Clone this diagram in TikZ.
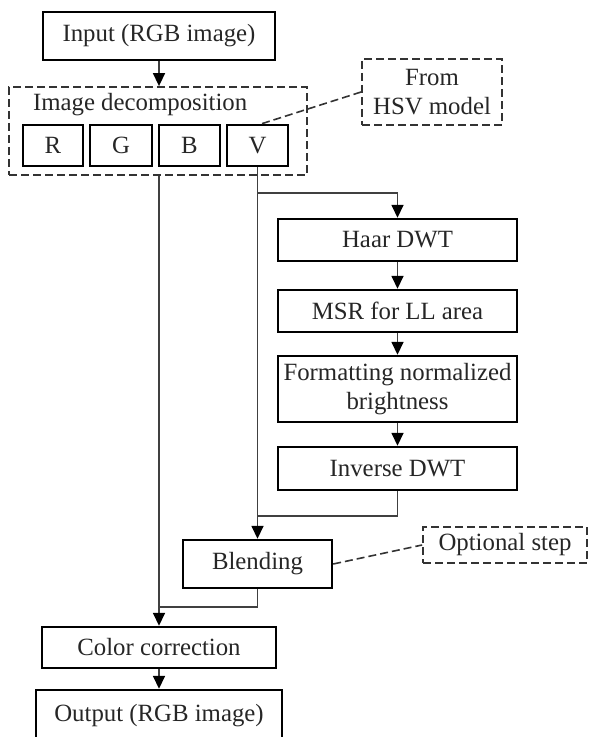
\documentclass[tikz,border=0pt]{standalone}
\usepackage{fontspec}
\setmainfont{Liberation Serif}
\usetikzlibrary{arrows.meta,calc}
\begin{document}
\begin{tikzpicture}[x=0.5pt,y=-0.5pt,
  font=\fontsize{12.4}{14.5}\selectfont,
  sz/.style 2 args={minimum width=#1*0.5pt, minimum height=#2*0.5pt, inner sep=0pt},
  blk/.style={draw=black, line width=1.2pt, text=black!85, align=center},
  dbox/.style={draw=black!80, line width=0.9pt, dash pattern=on 4pt off 2pt, text=black!85, align=center},
  conn/.style={draw=black!75, line width=0.8pt},
  arr/.style={conn, -{Triangle[length=6.5pt,width=6pt,color=black,fill=black]}},
  dline/.style={draw=black!80, line width=0.8pt, dash pattern=on 4pt off 2pt}]
\useasboundingbox (0,0) rectangle (589,737);

% boxes
\node[blk, sz={232}{48}] (in) at (159,36) {Input (RGB image)};
\node[dbox, sz={298}{88}] (dec) at (158,131) {};
\node[anchor=west, text=black!85] (dect) at (26,105) {Image decomposition};
\node[blk, sz={60}{41}] (R) at (53,145.5) {R};
\node[blk, sz={62}{41}] (G) at (121,145.5) {G};
\node[blk, sz={61}{41}] (B) at (189.5,145.5) {B};
\node[blk, sz={61}{41}] (V) at (257.5,145.5) {V};
\node[dbox, sz={140}{66}] (hsv) at (432,92) {From\\HSV model};

\node[blk, sz={239}{42}] (haar) at (397.5,240) {Haar DWT};
\node[blk, sz={239}{42}] (msr) at (397.5,311) {MSR for LL area};
\node[blk, sz={239}{66}] (fmt) at (397.5,389) {Formatting normalized\\brightness};
\node[blk, sz={239}{43}] (inv) at (397.5,468.5) {Inverse DWT};

\node[blk, sz={149}{48}] (blend) at (257.5,564) {Blending};
\node[dbox, sz={164}{36}] (opt) at (505,545) {Optional step};

\node[blk, sz={234}{41}] (cc) at (159,647.5) {Color correction};
\node[blk, sz={246}{52}] (out) at (159,716) {Output (RGB image)};

% junction coordinates
\coordinate (b1) at (397.5,193);
\coordinate (j1) at (257.5,516);
\coordinate (j2) at (159,607);

% connectors
\draw[arr] (in.south) -- (dec.north -| in.south);
\draw[arr] (dec.south -| in.south) -- (cc.north);
\draw[arr] (V.south) -- (blend.north);
\draw[arr] (V.south |- b1) -| (haar.north);
\draw[arr] (haar) -- (msr);
\draw[arr] (msr) -- (fmt);
\draw[arr] (fmt) -- (inv);
\draw[conn] (inv.south) |- (j1);
\draw[conn] (blend.south) |- (j2);
\draw[arr] (cc) -- (out);

% dashed annotations
\draw[dline] (hsv.west) -- ($(V.north)+(4,0)$);
\draw[dline] (blend.east) -- (opt.west);
\end{tikzpicture}
\end{document}
